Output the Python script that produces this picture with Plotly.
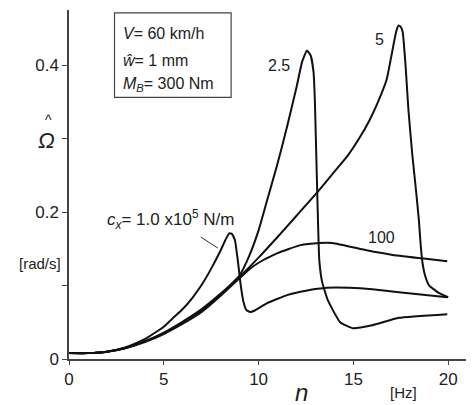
import plotly.graph_objects as go

# Data: frequency n [Hz] and amplitude [rad/s]
x_1e5 = [0, 1, 2, 3, 4, 5, 5.5, 6, 6.5, 7, 7.5, 8, 8.25, 8.45, 8.6, 8.75, 8.9, 9.05, 9.2, 9.35,
         9.55, 9.8, 10.45, 11.5, 12.5, 13.6, 14.8, 16, 17.4, 19.95]
y_1e5 = [0.008, 0.008, 0.010, 0.016, 0.027, 0.044, 0.056, 0.068, 0.083, 0.101, 0.123, 0.148, 0.162,
         0.171, 0.170, 0.162, 0.135, 0.102, 0.078, 0.067, 0.064, 0.066, 0.076, 0.087, 0.093, 0.097,
         0.097, 0.095, 0.091, 0.084]

x_2p5 = [0, 1, 2, 3, 4, 5, 6, 7, 8, 9, 9.5, 10, 10.45, 11, 11.5, 12, 12.3, 12.55, 12.75, 12.9,
         12.97, 13.02, 13.07, 13.12, 13.2, 13.35, 13.65, 14.3, 14.96, 16, 17.4, 19.95]
y_2p5 = [0.008, 0.008, 0.010, 0.015, 0.024, 0.036, 0.051, 0.068, 0.089, 0.114, 0.140, 0.175, 0.216,
         0.266, 0.316, 0.370, 0.405, 0.420, 0.413, 0.390, 0.350, 0.300, 0.250, 0.200, 0.135, 0.105,
         0.080, 0.050, 0.042, 0.046, 0.056, 0.061]

x_5 = [0, 1, 2, 3, 4, 5, 6, 7, 8, 9, 10, 11, 12, 13.07, 14, 14.65, 15.3, 15.85, 16.3, 16.75, 17.06,
       17.25, 17.38, 17.5, 17.6, 17.75, 17.9, 18.1, 18.3, 18.45, 18.55, 18.65, 18.8, 19.0, 19.5, 20.0]
y_5 = [0.008, 0.008, 0.010, 0.015, 0.024, 0.035, 0.050, 0.066, 0.088, 0.112, 0.138, 0.166, 0.195,
       0.226, 0.255, 0.275, 0.300, 0.325, 0.350, 0.380, 0.420, 0.445, 0.454, 0.452, 0.445, 0.400,
       0.340, 0.280, 0.230, 0.190, 0.155, 0.130, 0.112, 0.100, 0.090, 0.084]

x_100 = [0, 1, 2, 3, 4, 5, 6, 7, 8, 9, 9.5, 10, 10.5, 11, 12.2, 13.2, 13.9, 15.7, 17, 18.6, 19.95]
y_100 = [0.008, 0.008, 0.010, 0.015, 0.023, 0.034, 0.048, 0.064, 0.086, 0.110, 0.122, 0.131, 0.138,
         0.144, 0.155, 0.158, 0.158, 0.148, 0.142, 0.137, 0.133]

x_ticks = [0, 5, 10, 15, 20]
y_ticks = [0, 0.1, 0.2, 0.3, 0.4]
y_tick_text = ["0", "", "0.2", "", "0.4"]

FONT = "Liberation Sans, Arial, sans-serif"
LINE = dict(color="#111", width=2, shape="spline", smoothing=0.4)

fig = go.Figure()
for xs, ys in [(x_1e5, y_1e5), (x_2p5, y_2p5), (x_5, y_5), (x_100, y_100)]:
    fig.add_trace(go.Scatter(x=xs, y=ys, mode="lines", line=LINE, showlegend=False,
                             hoverinfo="skip"))

# page body has an 8px margin, so the figure is sized/offset to compensate
fig.update_layout(
    width=466, height=397,
    margin=dict(l=61, r=4, t=2, b=46),
    paper_bgcolor="white", plot_bgcolor="white",
    font=dict(family=FONT, size=16, color="#222"),
    xaxis=dict(range=[0, 21.15], tickvals=x_ticks, ticks="outside", ticklen=4,
               tickcolor="#444", showline=True, linecolor="#444", linewidth=1.5,
               showgrid=False, zeroline=False, tickfont=dict(size=17)),
    yaxis=dict(range=[0, 0.475], tickvals=y_ticks, ticktext=y_tick_text, ticks="outside",
               ticklen=5, tickcolor="#444", showline=True, linecolor="#444", linewidth=1.5,
               showgrid=False, zeroline=False, tickfont=dict(size=17)),
)

# parameter box
fig.add_shape(type="rect", xref="x", yref="y", x0=2.4, x1=8.55, y0=0.356, y1=0.471,
              line=dict(color="#444", width=1.2), fillcolor="white", layer="above")
box_lines = [("<i>V</i>= 60 km/h", 0.443), ("<i>ŵ</i>= 1 mm", 0.406), ("<i>M<sub>B</sub></i>= 300 Nm", 0.373)]
for txt, yy in box_lines:
    fig.add_annotation(x=2.75, y=yy, xref="x", yref="y", text=txt, showarrow=False,
                       xanchor="left", yanchor="middle", font=dict(size=16))

# curve labels
fig.add_annotation(x=11.1, y=0.40, xref="x", yref="y", text="2.5", showarrow=False,
                   font=dict(size=16))
fig.add_annotation(x=16.4, y=0.435, xref="x", yref="y", text="5", showarrow=False,
                   font=dict(size=16))
fig.add_annotation(x=16.5, y=0.166, xref="x", yref="y", text="100", showarrow=False,
                   font=dict(size=16))
fig.add_annotation(x=5.35, y=0.19, xref="x", yref="y",
                   text="<i>c<sub>x</sub></i>= 1.0 x10<sup>5</sup> N/m", showarrow=False,
                   font=dict(size=17))
fig.add_shape(type="line", xref="x", yref="y", x0=6.95, y0=0.166, x1=7.85, y1=0.151,
              line=dict(color="#333", width=1))

# axis labels (paper coordinates, outside the plot area)
def lab(x, y, text, size):
    fig.add_annotation(x=x, y=y, xref="paper", yref="paper", text=text, showarrow=False,
                       xanchor="center", yanchor="middle", font=dict(size=size))

lab(-0.055, 0.625, "<i>Ω</i>", 22)
lab(-0.050, 0.685, "^", 14)
lab(-0.072, 0.275, "[rad/s]", 15)
lab(0.581, -0.097, "<i>n</i>", 24)
lab(0.833, -0.095, "[Hz]", 15)

fig.write_html("out.html")
